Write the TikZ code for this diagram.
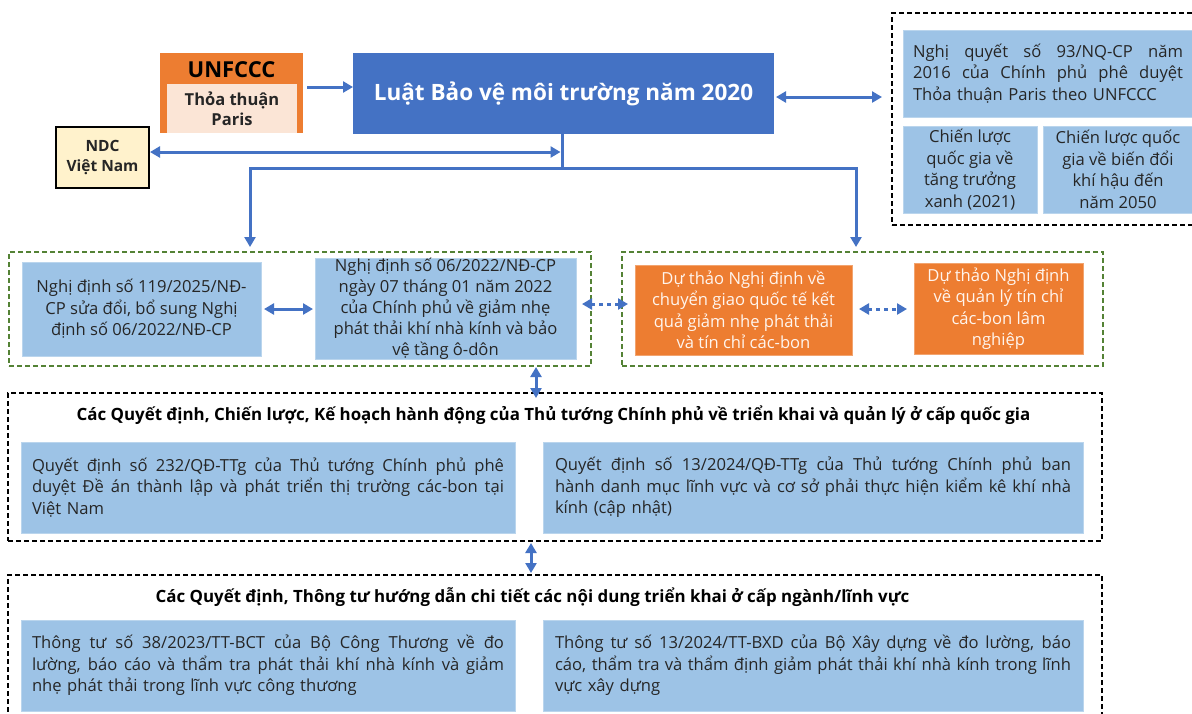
\documentclass[tikz,border=0pt]{standalone}
\usepackage{fontspec}
\setmainfont{Open Sans}
\usetikzlibrary{arrows.meta}
\definecolor{lblue}{HTML}{9DC3E6}
\definecolor{dblue}{HTML}{4472C4}
\definecolor{orng}{HTML}{ED7D31}
\definecolor{peach}{HTML}{FBE5D6}
\definecolor{ndcy}{HTML}{FFF2CC}
\definecolor{dgreen}{HTML}{548235}
\definecolor{txt}{HTML}{262626}
\definecolor{cream}{HTML}{FFF5EE}
\newcommand\jl[1]{\noindent\hbox to \hsize{\spaceskip=0.26em plus 10em minus 0.05em\xspaceskip=\spaceskip\relax #1}}
\tikzset{
  bx/.style={rectangle, inner sep=0pt, outer sep=0pt},
  body/.style={font=\fontsize{16.6}{21.5}\selectfont},
  bluebox/.style={bx, body, fill=lblue, draw=lblue!70!white, line width=0.6pt, text=txt},
  orbox/.style={bx, body, fill=orng, draw=orng!70!white, line width=0.6pt, text=cream},
  gdash/.style={bx, draw=dgreen, line width=1.5pt, dash pattern=on 5pt off 3pt},
  kdash/.style={bx, draw=black, line width=1.5pt, dash pattern=on 5pt off 3pt},
  conn/.style={draw=dblue, line width=3pt},
  arr/.style={conn, -{Triangle[length=10pt,width=11pt]}},
  darr/.style={conn, {Triangle[length=10pt,width=11pt]}-{Triangle[length=10pt,width=11pt]}},
  dotarr/.style={darr, dash pattern=on 4pt off 4pt},
  ttl/.style={font=\fontsize{16.9}{20}\selectfont\bfseries, text=black, inner sep=0pt},
}
\begin{document}
\begin{tikzpicture}[x=1pt,y=-1pt]
\useasboundingbox (0,0) rectangle (1192,713);
\clip (0,0) rectangle (1192,713);
\fill[white] (0,0) rectangle (1192,713);

% top row
\node[bx, fill=orng, minimum width=143, minimum height=80] (unf) at (231.5,93) {};
\node[bx, fill=peach, minimum width=130, minimum height=49, align=center,
      font=\fontsize{16.5}{20}\selectfont\bfseries, text=txt] (paris) at (232,108.5) {Thỏa thuận\\Paris};
\node[inner sep=0pt, font=\fontsize{22}{24}\selectfont\bfseries, text=black] (unft) at (231.5,69.5) {UNFCCC};

\node[bx, fill=dblue, minimum width=421, minimum height=81,
      font=\fontsize{22.5}{26}\selectfont\bfseries, text=white] (luat) at (563.5,93.5) {Luật Bảo vệ môi trường năm 2020};

\node[bx, fill=ndcy, draw=black, line width=1.5pt, minimum width=93, minimum height=61, align=center,
      font=\fontsize{15.5}{20}\selectfont\bfseries, text=txt] (ndc) at (102.5,157.5) {NDC\\Việt Nam};

\node[kdash, minimum width=308, minimum height=212] (rbox) at (1046,119) {};
\node[bluebox, minimum width=290, minimum height=87, text width=270, align=left] (nq) at (1048,73.5)
  {\jl{Nghị quyết số 93/NQ-CP năm}\\\jl{2016 của Chính phủ phê duyệt}\\Thỏa thuận Paris theo UNFCCC};
\node[bluebox, minimum width=134, minimum height=87, align=center] (cl1) at (970,169.5)
  {Chiến lược\\quốc gia về\\tăng trưởng\\xanh (2021)};
\node[bluebox, minimum width=150, minimum height=87, align=center] (cl2) at (1118,169.5)
  {Chiến lược quốc\\gia về biến đổi\\khí hậu đến\\năm 2050};

% second row
\node[gdash, minimum width=582, minimum height=114] (g1) at (300,309) {};
\node[bluebox, minimum width=239, minimum height=94, align=center] (b119) at (141.5,309)
  {Nghị định số 119/2025/NĐ-\\CP sửa đổi, bổ sung Nghị\\định số 06/2022/NĐ-CP};
\node[bluebox, minimum width=261, minimum height=94, align=center, font=\fontsize{16.6}{21}\selectfont] (b06) at (445.5,309)
  {Nghị định số 06/2022/NĐ-CP\\ngày 07 tháng 01 năm 2022\\của Chính phủ về giảm nhẹ\\phát thải khí nhà kính và bảo\\vệ tầng ô-dôn};
\node[gdash, minimum width=481, minimum height=114] (g2) at (862.5,309) {};
\node[orbox, minimum width=217, minimum height=90, align=center] (o1) at (743.5,310)
  {Dự thảo Nghị định về\\chuyển giao quốc tế kết\\quả giảm nhẹ phát thải\\và tín chỉ các-bon};
\node[orbox, minimum width=169, minimum height=91, align=center] (o2) at (998.5,308.5)
  {Dự thảo Nghị định\\về quản lý tín chỉ\\các-bon lâm\\nghiệp};

% third row
\node[kdash, minimum width=1094, minimum height=148] (mid) at (555,467) {};
\node[ttl] (midt) at (553.5,415) {Các Quyết định, Chiến lược, Kế hoạch hành động của Thủ tướng Chính phủ về triển khai và quản lý ở cấp quốc gia};
\node[bluebox, minimum width=494, minimum height=91, text width=472, align=left] (q232) at (268,487.5)
  {\jl{Quyết định số 232/QĐ-TTg của Thủ tướng Chính phủ phê}\\\jl{duyệt Đề án thành lập và phát triển thị trường các-bon tại}\\Việt Nam};
\node[bluebox, minimum width=540, minimum height=91, text width=516, align=left] (q13) at (813,487.5)
  {\jl{Quyết định số 13/2024/QĐ-TTg của Thủ tướng Chính phủ ban}\\\jl{hành danh mục lĩnh vực và cơ sở phải thực hiện kiểm kê khí nhà}\\kính (cập nhật)};

% fourth row
\node[kdash, minimum width=1094, minimum height=160] (bot) at (555,655) {};
\node[ttl] (bott) at (532.5,597) {Các Quyết định, Thông tư hướng dẫn chi tiết các nội dung triển khai ở cấp ngành/lĩnh vực};
\node[bluebox, minimum width=494, minimum height=91, text width=472, align=left] (t38) at (268,665.5)
  {\jl{Thông tư số 38/2023/TT-BCT của Bộ Công Thương về đo}\\\jl{lường, báo cáo và thẩm tra phát thải khí nhà kính và giảm}\\nhẹ phát thải trong lĩnh vực công thương};
\node[bluebox, minimum width=540, minimum height=91, text width=516, align=left] (t13) at (813,665.5)
  {\jl{Thông tư số 13/2024/TT-BXD của Bộ Xây dựng về đo lường, báo}\\\jl{cáo, thẩm tra và thẩm định giảm phát thải khí nhà kính trong lĩnh}\\vực xây dựng};

% connectors
\coordinate (jn) at (562,152);
\coordinate (js) at (562,168);
\coordinate (jl) at (250,168);
\coordinate (jr) at (856,168);
\draw[arr, shorten <=4pt] ([yshift=6pt]unf.east) -- ([yshift=6pt]unf.east -| luat.west);
\draw[darr, shorten <=2pt, shorten >=10pt] ([yshift=-3.5pt]luat.east) -- ([yshift=-3.5pt]luat.east -| rbox.west);
\draw[conn] (luat.south -| js) -- (js);
\draw[darr, shorten <=1pt, shorten >=1.5pt] (ndc.east |- jn) -- (jn);
\draw[darr, shorten <=5pt, shorten >=5pt] (jl |- g1.north) -- (jl) -- (jr) -- (jr |- g2.north);
\draw[darr, shorten <=3pt, shorten >=2pt] (b119.east) -- (b06.west);
\draw[dotarr, shorten <=-9pt, shorten >=-6pt] ([yshift=5pt]g1.east) -- ([yshift=5pt]g1.east -| g2.west);
\draw[dotarr, shorten <=7pt, shorten >=7pt] ([yshift=1pt]o1.east) -- ([yshift=1pt]o1.east -| o2.west);
\draw[darr, shorten <=1pt, shorten >=-5pt] (g1.south -| 536,0) -- (mid.north -| 536,0);
\draw[darr, shorten <=2pt, shorten >=2pt] (mid.south -| 531,0) -- (bot.north -| 531,0);
\end{tikzpicture}
\end{document}
